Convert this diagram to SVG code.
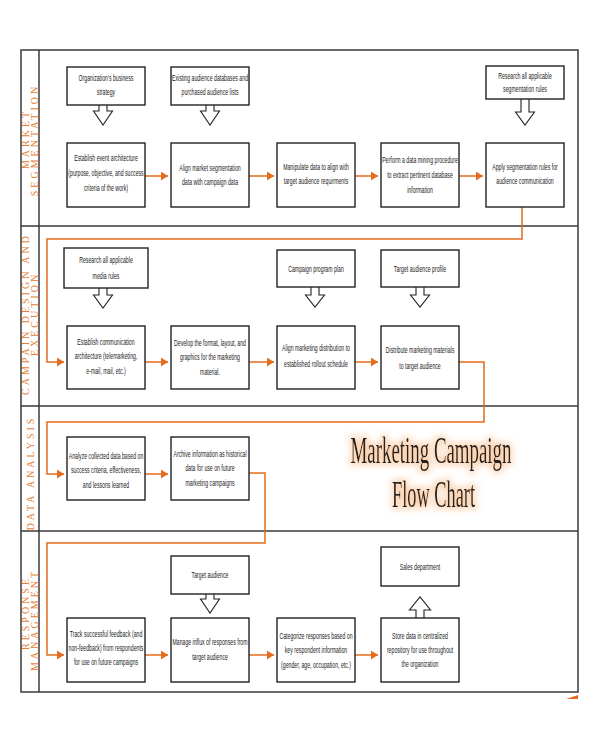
<svg xmlns="http://www.w3.org/2000/svg" width="600" height="730" viewBox="0 0 600 730">
<style>
.frame{fill:none;stroke:#3a3a3a;stroke-width:1.5}
.box{fill:#fff;stroke:#222;stroke-width:1.4}
.hollow{fill:#fff;stroke:#222;stroke-width:1.1;stroke-linejoin:miter}
.conn{fill:none;stroke:#E46C1E;stroke-width:1.5}
.t{font-family:"Liberation Sans",Arial,sans-serif;font-size:8.5px;fill:#222;text-anchor:middle}
.lane{font-family:"Liberation Serif","Times New Roman",serif;font-size:10px;fill:#E67E35;text-anchor:middle;letter-spacing:3px}
.title{font-family:"Liberation Serif","Times New Roman",serif;font-size:38px;fill:#222;text-anchor:middle}
</style>
<defs>
<marker id="ah" markerUnits="userSpaceOnUse" markerWidth="8" markerHeight="10" refX="7" refY="4.5" orient="auto">
<path d="M0,0 L7,4.5 L0,9 Z" fill="#E46C1E"/>
</marker>
<filter id="glow" filterUnits="userSpaceOnUse" x="330" y="420" width="210" height="110">
<feMorphology in="SourceAlpha" operator="dilate" radius="1.5" result="d"/>
<feGaussianBlur in="d" stdDeviation="3.5" result="b"/>
<feFlood flood-color="#F5A96A" flood-opacity="0.5"/>
<feComposite in2="b" operator="in" result="g"/>
<feMerge><feMergeNode in="g"/><feMergeNode in="SourceGraphic"/></feMerge>
</filter>
</defs>

<g id="frame">
<rect class="frame" x="21" y="50" width="557" height="642"/>
<line class="frame" x1="39" y1="50" x2="39" y2="692"/>
<line class="frame" x1="21" y1="226" x2="578" y2="226"/>
<line class="frame" x1="21" y1="406" x2="578" y2="406"/>
<line class="frame" x1="21" y1="531" x2="578" y2="531"/>
<polygon points="566,699 578,699 578,695" fill="#E46C1E"/>
</g>

<g id="lane-labels">
<text class="lane" transform="translate(28.5,139) rotate(-90)">MARKET</text>
<text class="lane" transform="translate(37.5,140) rotate(-90)">SEGMENTATION</text>
<text class="lane" transform="translate(28.5,314) rotate(-90)">CAMPAIN DESIGN AND</text>
<text class="lane" transform="translate(37.5,314) rotate(-90)">EXECUTION</text>
<text class="lane" transform="translate(33.5,473) rotate(-90)">DATA ANALYSIS</text>
<text class="lane" transform="translate(28.5,613) rotate(-90)">RESPONSE</text>
<text class="lane" transform="translate(37.5,620) rotate(-90)">MANAGEMENT</text>
</g>

<g id="connectors">
<path class="hollow" d="M99,100 V111 H93.5 L103,125 L112.5,111 H107 V100 Z"/>
<path class="hollow" d="M206,100 V111 H200.5 L210,125 L219.5,111 H214 V100 Z"/>
<path class="hollow" d="M521,93 V112 H515.5 L525,125 L534.5,112 H529 V93 Z"/>
<path class="hollow" d="M99,283 V295 H93.5 L103,308 L112.5,295 H107 V283 Z"/>
<path class="hollow" d="M311,282 V295 H305.5 L315,307 L324.5,295 H319 V282 Z"/>
<path class="hollow" d="M416,282 V295 H410.5 L420,307 L429.5,295 H424 V282 Z"/>
<path class="hollow" d="M206,589 V599 H200.5 L210,613 L219.5,599 H214 V589 Z"/>
<path class="hollow" d="M416,623 V610 H409.5 L420,597 L430.5,610 H424 V623 Z"/>

<line class="conn" x1="145" y1="176" x2="168" y2="176" marker-end="url(#ah)"/>
<line class="conn" x1="249" y1="176" x2="274" y2="176" marker-end="url(#ah)"/>
<line class="conn" x1="355" y1="176" x2="378" y2="176" marker-end="url(#ah)"/>
<line class="conn" x1="459" y1="176" x2="483" y2="176" marker-end="url(#ah)"/>
<polyline class="conn" points="522,207 522,239 47,239 47,362 64,362" marker-end="url(#ah)"/>
<line class="conn" x1="145" y1="362" x2="168" y2="362" marker-end="url(#ah)"/>
<line class="conn" x1="249" y1="362" x2="274" y2="362" marker-end="url(#ah)"/>
<line class="conn" x1="355" y1="362" x2="378" y2="362" marker-end="url(#ah)"/>
<polyline class="conn" points="459,362 484,362 484,422 47,422 47,474 64,474" marker-end="url(#ah)"/>
<line class="conn" x1="145" y1="474" x2="168" y2="474" marker-end="url(#ah)"/>
<polyline class="conn" points="249,473 265,473 265,543 47,543 47,655 64,655" marker-end="url(#ah)"/>
<line class="conn" x1="145" y1="655" x2="168" y2="655" marker-end="url(#ah)"/>
<line class="conn" x1="249" y1="655" x2="274" y2="655" marker-end="url(#ah)"/>
<line class="conn" x1="355" y1="655" x2="378" y2="655" marker-end="url(#ah)"/>
</g>

<g id="n-org-strategy">
<rect class="box" x="67" y="67" width="78" height="38"/>
<text class="t" transform="translate(106,81) scale(0.61,1)"><tspan x="0">Organization's business</tspan><tspan x="0" dy="14">strategy</tspan></text>
</g>
<g id="n-existing-db">
<rect class="box" x="171" y="67" width="78" height="38"/>
<text class="t" transform="translate(210,81) scale(0.61,1)"><tspan x="0">Existing audience databases and</tspan><tspan x="0" dy="14">purchased audience lists</tspan></text>
</g>
<g id="n-research-seg">
<rect class="box" x="486" y="66" width="78" height="33"/>
<text class="t" transform="translate(525,79) scale(0.61,1)"><tspan x="0">Research all applicable</tspan><tspan x="0" dy="13">segmentation rules</tspan></text>
</g>

<g id="n-establish-event">
<rect class="box" x="67" y="143" width="78" height="64"/>
<text class="t" transform="translate(106,161) scale(0.61,1)"><tspan x="0">Establish event architecture</tspan><tspan x="0" dy="15">(purpose, objective, and success</tspan><tspan x="0" dy="15">criteria of the work)</tspan></text>
</g>
<g id="n-align-seg">
<rect class="box" x="171" y="143" width="78" height="64"/>
<text class="t" transform="translate(210,170.5) scale(0.61,1)"><tspan x="0">Align market segmentation</tspan><tspan x="0" dy="15">data with campaign data</tspan></text>
</g>
<g id="n-manipulate">
<rect class="box" x="277" y="143" width="78" height="64"/>
<text class="t" transform="translate(316,169.5) scale(0.61,1)"><tspan x="0">Manipulate data to align with</tspan><tspan x="0" dy="15">target audience requirments</tspan></text>
</g>
<g id="n-mining">
<rect class="box" x="381" y="143" width="78" height="64"/>
<text class="t" transform="translate(420,163) scale(0.61,1)"><tspan x="0">Perform a data mining procedure</tspan><tspan x="0" dy="15">to extract  pertinent database</tspan><tspan x="0" dy="15">information</tspan></text>
</g>
<g id="n-apply-seg">
<rect class="box" x="486" y="143" width="78" height="64"/>
<text class="t" transform="translate(525,169.5) scale(0.61,1)"><tspan x="0">Apply segmentation rules for</tspan><tspan x="0" dy="15">audience communication</tspan></text>
</g>

<g id="n-research-media">
<rect class="box" x="64" y="248" width="84" height="40"/>
<text class="t" transform="translate(106,263) scale(0.61,1)"><tspan x="0">Research all applicable</tspan><tspan x="0" dy="16">media rules</tspan></text>
</g>
<g id="n-campaign-plan">
<rect class="box" x="277" y="250" width="78" height="37"/>
<text class="t" transform="translate(316,272) scale(0.61,1)">Campaign program plan</text>
</g>
<g id="n-target-profile">
<rect class="box" x="381" y="250" width="78" height="37"/>
<text class="t" transform="translate(420,272) scale(0.61,1)">Target audience profile</text>
</g>

<g id="n-establish-comm">
<rect class="box" x="67" y="326" width="78" height="63"/>
<text class="t" transform="translate(106,344.5) scale(0.61,1)"><tspan x="0">Establish communication</tspan><tspan x="0" dy="15">architecture (telemarketing,</tspan><tspan x="0" dy="15">e-mail, mail, etc.)</tspan></text>
</g>
<g id="n-develop-format">
<rect class="box" x="171" y="326" width="78" height="63"/>
<text class="t" transform="translate(210,345.5) scale(0.61,1)"><tspan x="0">Develop the format, layout, and</tspan><tspan x="0" dy="15">graphics for the marketing</tspan><tspan x="0" dy="15">material.</tspan></text>
</g>
<g id="n-align-distribution">
<rect class="box" x="277" y="326" width="78" height="63"/>
<text class="t" transform="translate(316,351) scale(0.61,1)"><tspan x="0">Align marketing distribution to</tspan><tspan x="0" dy="16">established rollout schedule</tspan></text>
</g>
<g id="n-distribute">
<rect class="box" x="381" y="326" width="78" height="63"/>
<text class="t" transform="translate(420,353) scale(0.61,1)"><tspan x="0">Distribute marketing materials</tspan><tspan x="0" dy="16">to target audience</tspan></text>
</g>

<g id="n-analyze">
<rect class="box" x="67" y="437" width="78" height="63"/>
<text class="t" transform="translate(106,458.5) scale(0.61,1)"><tspan x="0">Analyze collected data based on</tspan><tspan x="0" dy="15">success criteria, effectiveness,</tspan><tspan x="0" dy="15">and lessons learned</tspan></text>
</g>
<g id="n-archive">
<rect class="box" x="171" y="437" width="78" height="63"/>
<text class="t" transform="translate(210,456.5) scale(0.61,1)"><tspan x="0">Archive information as historical</tspan><tspan x="0" dy="15">data for use on future</tspan><tspan x="0" dy="15">marketing campaigns</tspan></text>
</g>

<g id="title" filter="url(#glow)">
<text class="title" transform="translate(431,463) scale(0.497,1)">Marketing Campaign</text>
<text class="title" transform="translate(433.5,507) scale(0.483,1)">Flow Chart</text>
</g>

<g id="n-target-audience">
<rect class="box" x="171" y="556" width="78" height="38"/>
<text class="t" transform="translate(210,578) scale(0.61,1)">Target audience</text>
</g>
<g id="n-sales">
<rect class="box" x="381" y="547" width="78" height="39"/>
<text class="t" transform="translate(420,570) scale(0.61,1)">Sales department</text>
</g>
<g id="n-track">
<rect class="box" x="67" y="618" width="78" height="64"/>
<text class="t" transform="translate(106,636.5) scale(0.61,1)"><tspan x="0">Track successful feedback (and</tspan><tspan x="0" dy="14.5">non-feedback) from respondents</tspan><tspan x="0" dy="14.5">for use on future campaigns</tspan></text>
</g>
<g id="n-manage">
<rect class="box" x="171" y="618" width="78" height="64"/>
<text class="t" transform="translate(210,644.5) scale(0.61,1)"><tspan x="0">Manage influx of responses from</tspan><tspan x="0" dy="16">target audience</tspan></text>
</g>
<g id="n-categorize">
<rect class="box" x="277" y="618" width="78" height="64"/>
<text class="t" transform="translate(316,639) scale(0.61,1)"><tspan x="0">Categorize responses based on</tspan><tspan x="0" dy="14.5">key respondent information</tspan><tspan x="0" dy="14.5">(gender, age, occupation, etc.)</tspan></text>
</g>
<g id="n-store">
<rect class="box" x="381" y="618" width="78" height="64"/>
<text class="t" transform="translate(420,639) scale(0.61,1)"><tspan x="0">Store data in centralized</tspan><tspan x="0" dy="14">repository for use throughout</tspan><tspan x="0" dy="14">the organization</tspan></text>
</g>
</svg>
